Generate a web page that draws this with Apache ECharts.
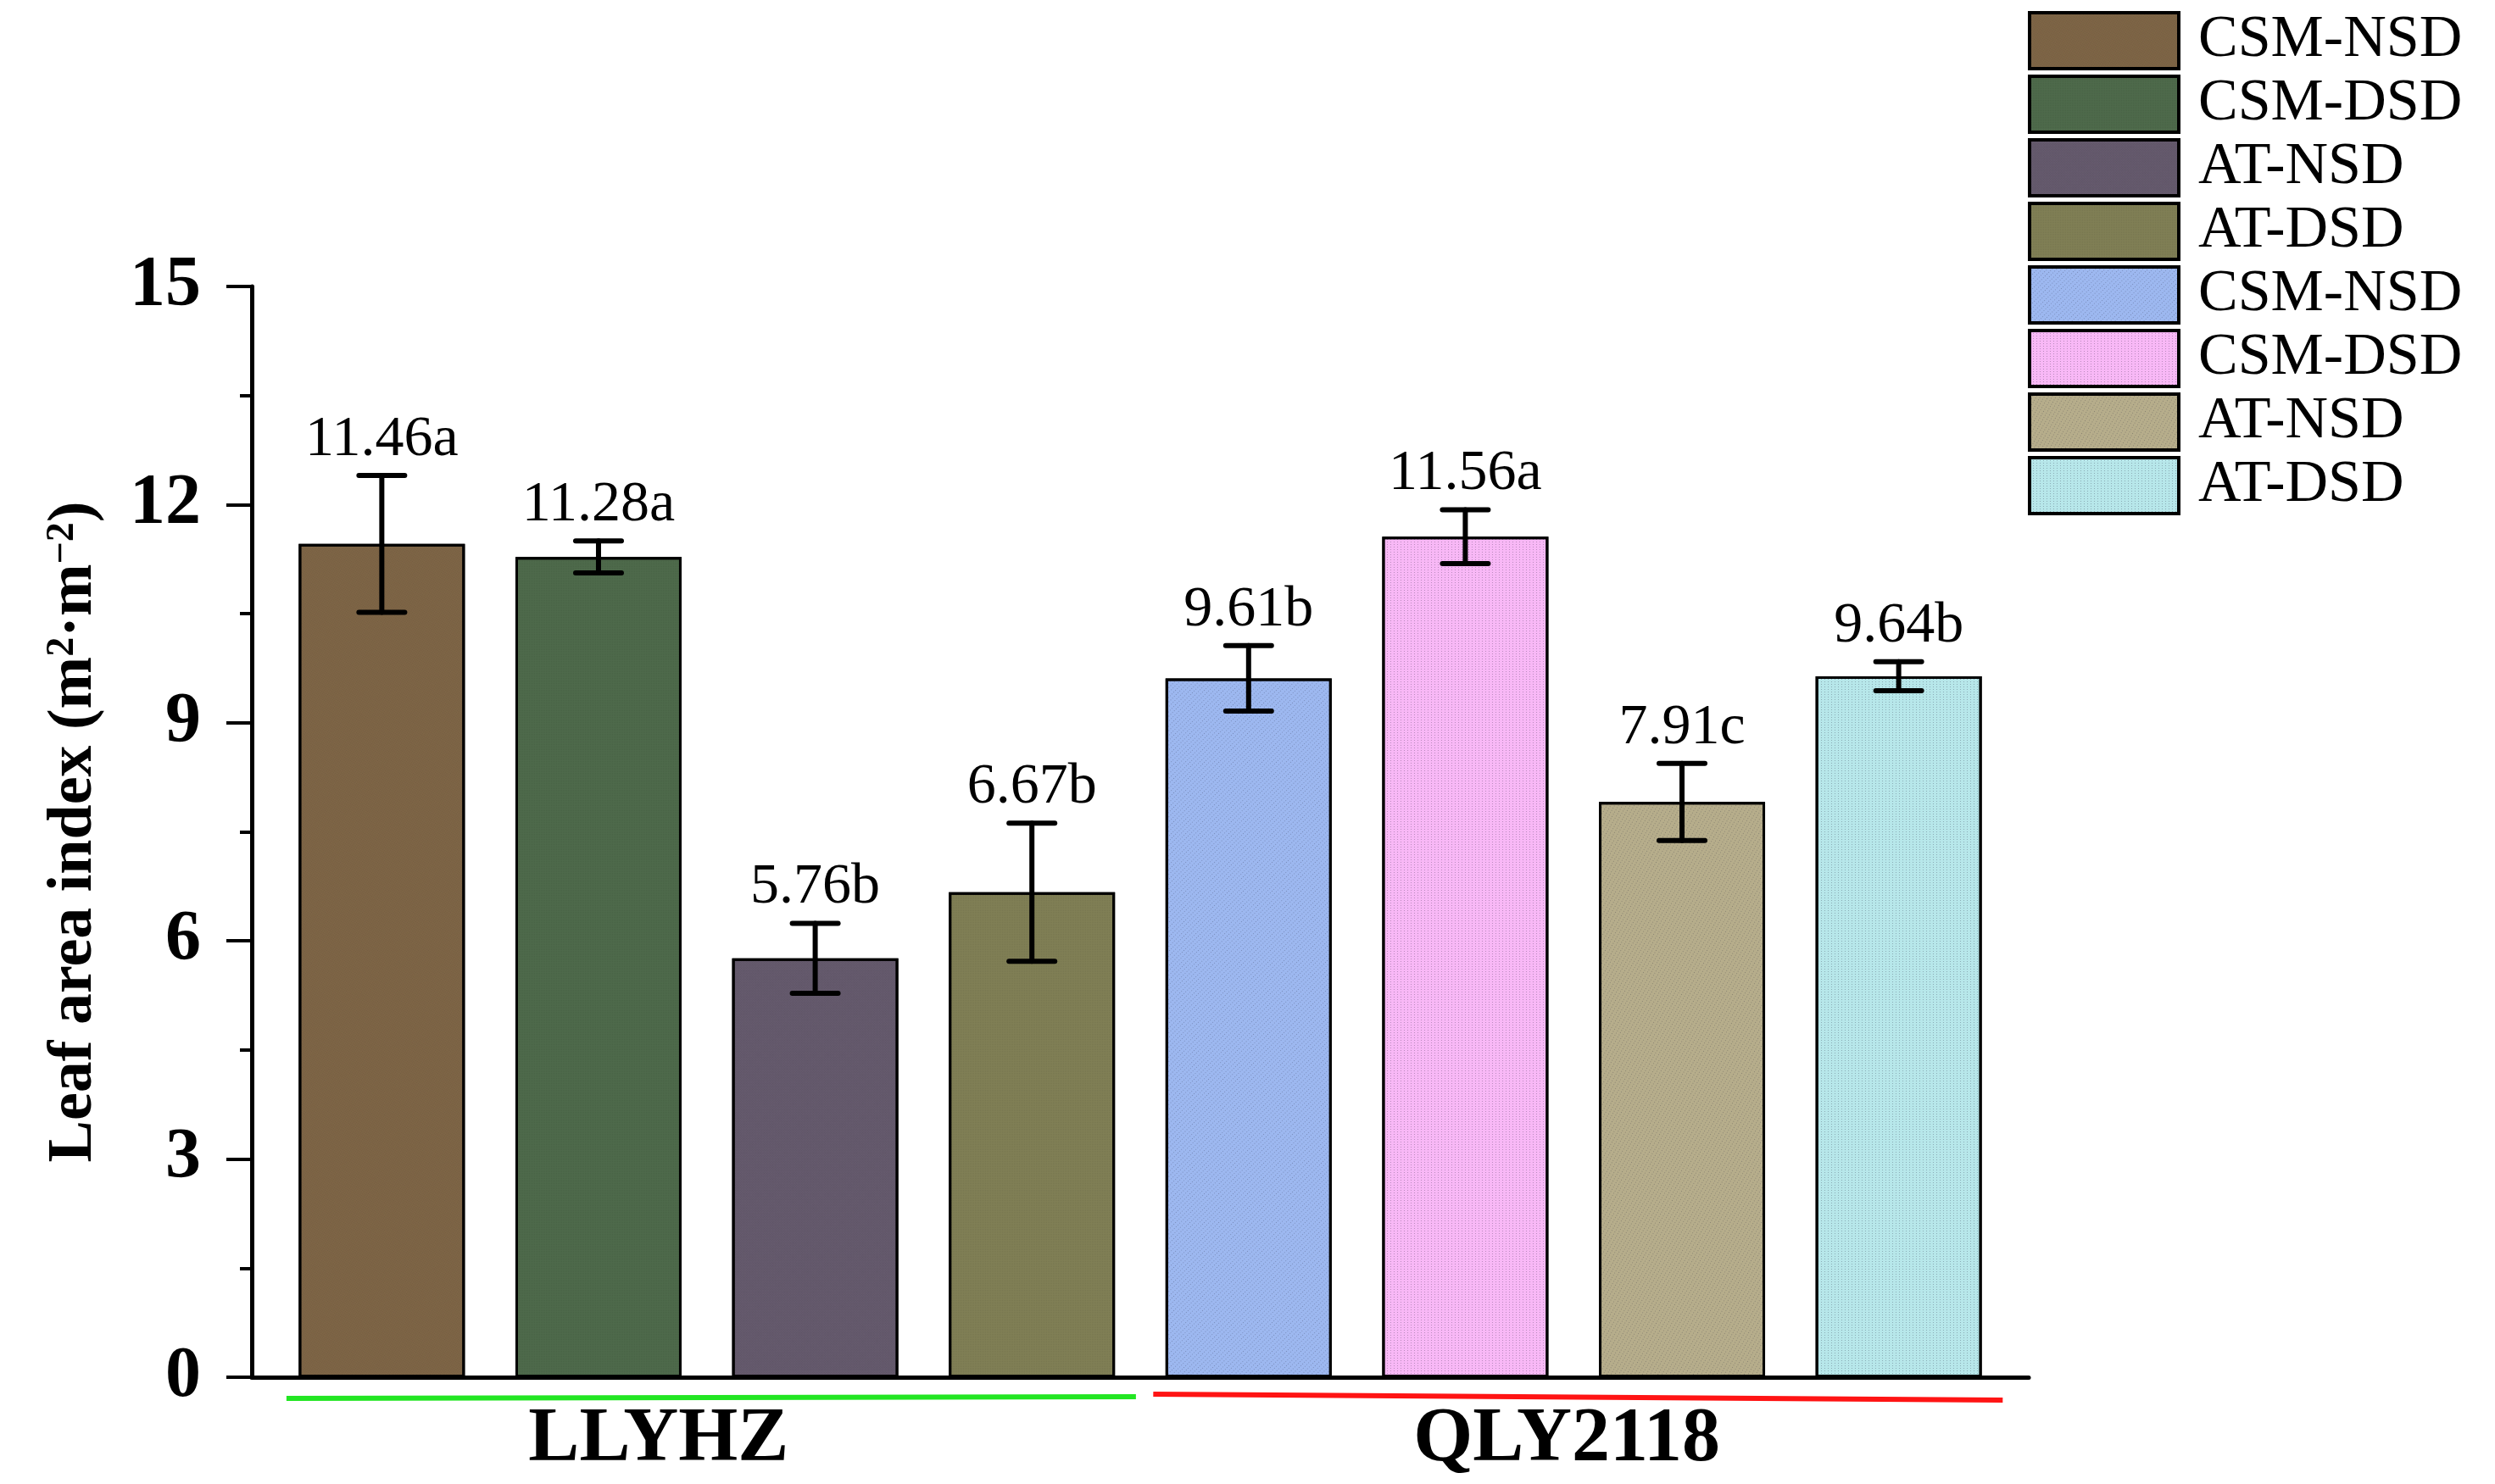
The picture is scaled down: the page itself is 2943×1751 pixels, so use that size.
<!DOCTYPE html>
<html>
<head>
<meta charset="utf-8">
<title>Leaf area index</title>
<script src="https://cdn.jsdelivr.net/npm/echarts@6.0.0/dist/echarts.min.js"></script>
<style>
html, body { margin: 0; padding: 0; background: #fff; }
#chart { width: 2943px; height: 1751px; }
</style>
</head>
<body>
<div id="chart"></div>
<script>
// cultivars and treatments (bars are drawn group by group)
var groups = ['LLYHZ', 'QLY2118'];
var treatments = ['CSM-NSD', 'CSM-DSD', 'AT-NSD', 'AT-DSD'];
// mean leaf area index of each bar
var values = [11.46, 11.28, 5.76, 6.67, 9.61, 11.56, 7.91, 9.64];
// half length of each error bar
var errors = [0.94, 0.22, 0.48, 0.95, 0.45, 0.37, 0.53, 0.20];
// significance letters
var letters = ['a', 'a', 'b', 'b', 'b', 'a', 'c', 'b'];
var yTicks = [0, 3, 6, 9, 12, 15];

var colors = ['#7e6546', '#4e6a4b', '#655a6d', '#807f55', '#9db8f0', '#f8b8f6', '#b6ad8b', '#b7e7ea'];
var lineColors = ['#22e622', '#ff1414'];
var FONT = '"Times New Roman", "Liberation Serif", serif';

var series = [];
var legendNames = [];
values.forEach(function (v, i) {
    var g = Math.floor(i / treatments.length);
    var name = groups[g] + ' ' + treatments[i % treatments.length];
    legendNames.push(name);
    series.push({
        name: name,
        type: 'bar',
        barWidth: 196,
        barGap: '-100%',
        data: [[i, v]],
        itemStyle: {
            color: colors[i],
            borderColor: '#000',
            borderWidth: 3,
            decal: g === 0
                ? { symbol: 'rect', symbolSize: 1, dashArrayX: [1, 1], dashArrayY: [1, 1], color: 'rgba(0,0,0,0.07)' }
                : { symbol: 'rect', symbolSize: 1, dashArrayX: [1, 3], dashArrayY: [1, 2], color: 'rgba(30,30,50,0.28)' }
        }
    });
});

// error bars
series.push({
    type: 'custom',
    name: 'err',
    z: 10,
    data: values.map(function (v, i) { return [i, v, errors[i]]; }),
    renderItem: function (params, api) {
        var x = api.value(0), v = api.value(1), e = api.value(2);
        var top = api.coord([x, v + e]);
        var bot = api.coord([x, v - e]);
        var hw = 27;
        var st = { stroke: '#000', lineWidth: 6, lineCap: 'round' };
        return {
            type: 'group',
            children: [
                { type: 'line', shape: { x1: top[0], y1: top[1], x2: bot[0], y2: bot[1] }, style: st },
                { type: 'line', shape: { x1: top[0] - hw, y1: top[1], x2: top[0] + hw, y2: top[1] }, style: st },
                { type: 'line', shape: { x1: bot[0] - hw, y1: bot[1], x2: bot[0] + hw, y2: bot[1] }, style: st }
            ]
        };
    }
});

var chart = echarts.init(document.getElementById('chart'));
var option = {
    backgroundColor: '#fff',
    animation: false,
    textStyle: { fontFamily: FONT, color: '#000' },
    aria: { enabled: true, decal: { show: true } },
    grid: { left: 297, right: 550, top: 338, bottom: 126, outerBoundsMode: 'none' },
    legend: {
        data: legendNames,
        orient: 'vertical',
        left: 2387,
        top: 8,
        itemWidth: 176,
        itemHeight: 66,
        itemGap: 5,
        icon: 'rect',
        selectedMode: false,
        itemStyle: { borderWidth: 4, borderColor: '#000' },
        formatter: function (n) { return n.split(' ')[1]; },
        textStyle: { fontFamily: FONT, fontSize: 70, lineHeight: 66, color: '#000', padding: [0, 0, 0, 18] }
    },
    xAxis: {
        type: 'value',
        min: -0.6,
        max: 7.6,
        axisLine: { show: true, onZero: false, lineStyle: { color: '#000', width: 5 } },
        axisTick: { show: false },
        splitLine: { show: false },
        axisLabel: {
            customValues: groups.map(function (g, k) { return k * treatments.length + (treatments.length - 1) / 2; }),
            margin: 30,
            formatter: function (val) {
                var k = Math.round((val - 1.5) / treatments.length);
                return '{g' + k + '|' + groups[k] + '}';
            },
            rich: {
                g0: { fontFamily: FONT, fontWeight: 'bold', fontSize: 90, color: '#000', padding: [0, 114, 0, 0] },
                g1: { fontFamily: FONT, fontWeight: 'bold', fontSize: 90, color: '#000', padding: [0, 16, 0, 0] }
            }
        }
    },
    yAxis: {
        type: 'value',
        min: yTicks[0],
        max: yTicks[yTicks.length - 1],
        interval: yTicks[1] - yTicks[0],
        name: '{t|Leaf area index (m}{s|2}{t|·m}{s|−2}{t|)}',
        nameLocation: 'middle',
        nameGap: 172,
        nameRotate: 90,
        nameTextStyle: {
            rich: {
                t: { fontFamily: FONT, fontWeight: 'bold', fontSize: 74, color: '#000' },
                s: { fontFamily: FONT, fontWeight: 'bold', fontSize: 46, color: '#000', verticalAlign: 'top' }
            }
        },
        axisLine: { show: true, onZero: false, lineStyle: { color: '#000', width: 5 } },
        axisTick: { show: true, length: 30, lineStyle: { color: '#000', width: 4 } },
        minorTick: { show: true, splitNumber: 2, length: 14, lineStyle: { color: '#000', width: 4 } },
        splitLine: { show: false },
        minorSplitLine: { show: false },
        axisLabel: { fontFamily: FONT, fontWeight: 'bold', fontSize: 84, color: '#000', margin: 60 }
    },
    series: series
};
chart.setOption(option);

// coloured underline under each cultivar group, and value labels above the error bars
var lineOffsets = [[25, 23], [20, 27]];
var extras = groups.map(function (g, k) {
    var first = k * treatments.length, last = first + treatments.length - 1;
    var p1 = chart.convertToPixel({ gridIndex: 0 }, [first - 0.44, 0]);
    var p2 = chart.convertToPixel({ gridIndex: 0 }, [last + 0.48, 0]);
    return {
        type: 'line',
        shape: { x1: p1[0], y1: p1[1] + lineOffsets[k][0], x2: p2[0], y2: p2[1] + lineOffsets[k][1] },
        style: { stroke: lineColors[k], lineWidth: 6 }
    };
});
values.forEach(function (v, i) {
    var p = chart.convertToPixel({ gridIndex: 0 }, [i, v + errors[i]]);
    extras.push({
        type: 'text',
        x: p[0],
        y: p[1] - 8,
        z: 20,
        style: {
            text: v.toFixed(2) + letters[i],
            fontFamily: 'Liberation Serif',
            fontSize: 68,
            fill: '#000',
            align: 'center',
            verticalAlign: 'bottom'
        }
    });
});
chart.setOption({ graphic: extras });
</script>
</body>
</html>
